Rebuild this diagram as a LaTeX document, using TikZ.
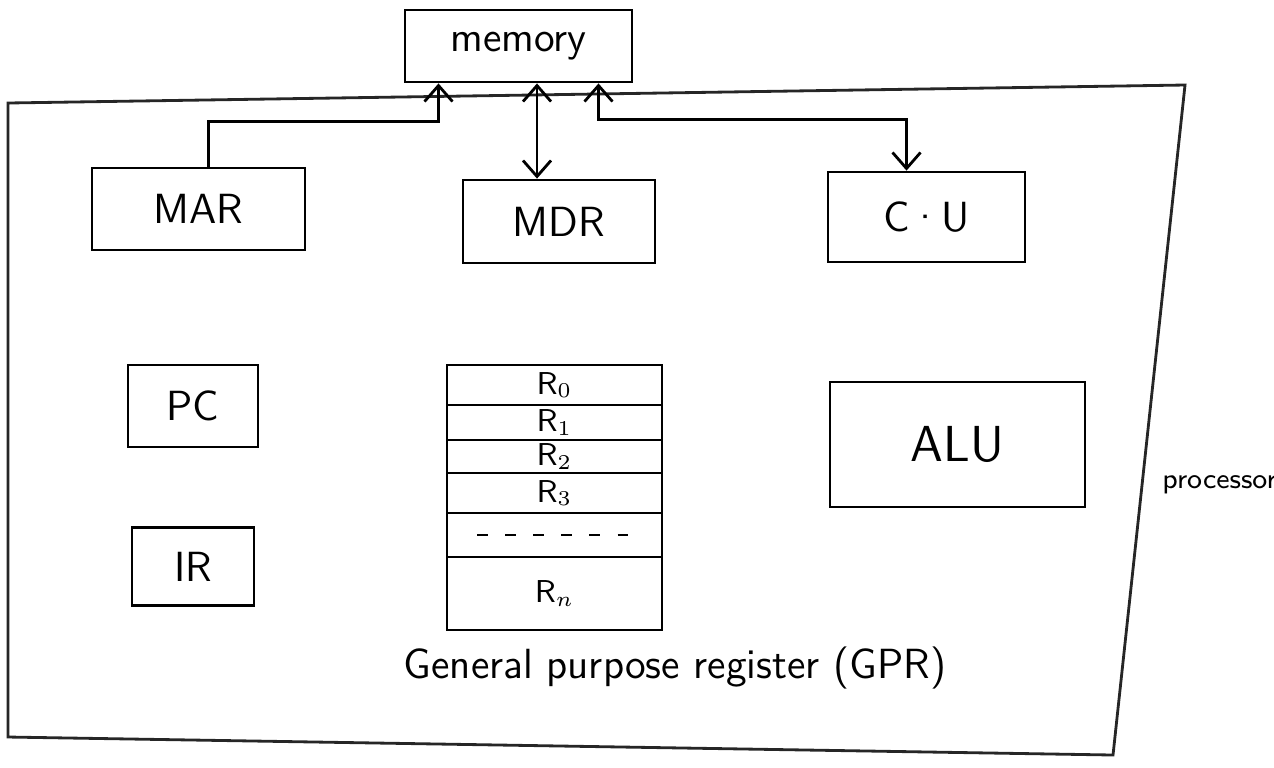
\documentclass[tikz,border=0pt]{standalone}
\usepackage{fontspec}
\usepackage{tikz}
\usetikzlibrary{positioning,arrows.meta}

\begin{document}
\begin{tikzpicture}[
    >={Straight Barb[length=1.6mm,width=2.8mm]},
    unit/.style={draw, thick, inner sep=0pt, font=\sffamily\large},
    link/.style={thick},
    reg/.style={
        draw, thick,
        inner sep=0pt, outer sep=0pt,
        minimum width=2.15cm,
        font=\sffamily\small
    },
    frame/.style={thick, black!85}
]
\useasboundingbox (0,0) rectangle (12.74,-7.67);

% Processor boundary
\draw[frame] (0.08,-1.03) -- (11.85,-0.85) -- (11.13,-7.55) -- (0.08,-7.37) -- cycle;
\node[font=\sffamily\footnotesize, anchor=west] (proc) at (11.5,-4.85) {processor};

% Memory
\node[unit, minimum width=2.27cm, minimum height=0.72cm] (mem) at (5.185,-0.46) {memory};

% ---- Upper row ----

% MAR
\node[unit, minimum width=2.13cm, minimum height=0.82cm] (mar) at (1.985,-2.09) {MAR};

% MDR
\node[unit, minimum width=1.92cm, minimum height=0.83cm] (mdr) at (5.59,-2.215) {MDR};

% Control unit
\node[unit, minimum width=1.97cm, minimum height=0.90cm] (cu) at (9.265,-2.17) {C·U};

% ---- Left column ----

% PC
\node[unit, minimum width=1.30cm, minimum height=0.82cm] (pc) at (1.93,-4.06) {PC};

% IR
\node[unit, minimum width=1.22cm, minimum height=0.78cm, below=0.78cm of pc] (ir) {IR};

% ALU
\node[unit, minimum width=2.55cm, minimum height=1.25cm, font=\sffamily\Large] (alu) at (9.575,-4.445) {ALU};

% ---- General purpose registers ----
\node[reg, minimum height=0.40cm, anchor=north] (r0) at (5.545,-3.65) {R$_0$};
\node[reg, minimum height=0.35cm, below=0pt of r0] (r1) {R$_1$};
\node[reg, minimum height=0.33cm, below=0pt of r1] (r2) {R$_2$};
\node[reg, minimum height=0.40cm, below=0pt of r2] (r3) {R$_3$};
\node[reg, minimum height=0.44cm, below=0pt of r3] (rdots) {};
\node[reg, minimum height=0.73cm, below=0pt of rdots] (rn) {R$_n$};
\draw[thick, dash pattern=on 3pt off 5pt] ([xshift=3mm]rdots.west) -- ([xshift=-3mm]rdots.east);

\node[font=\sffamily\large] (gpr) at (6.75,-6.68) {General purpose register (GPR)};

% ---- Links to memory ----
\draw[link,->] ([xshift=1mm]mar.north) -- ++(0,0.45) -| ([xshift=-8mm]mem.south);
\draw[link,<->] ([xshift=1.85mm]mem.south) -- ([xshift=1.85mm]mem.south |- mdr.north);
\draw[link,<->] ([xshift=8mm]mem.south) -- ++(0,-0.36) -| ([xshift=-2mm]cu.north);

\end{tikzpicture}
\end{document}
